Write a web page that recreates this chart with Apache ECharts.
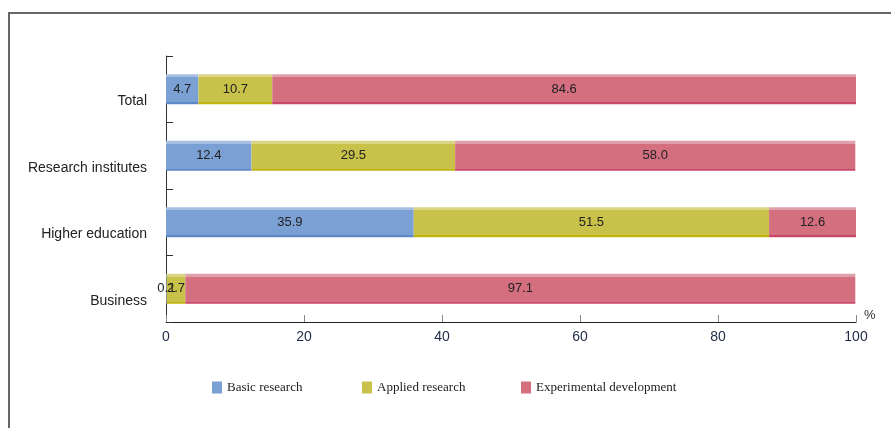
<!DOCTYPE html>
<html>
<head>
<meta charset="utf-8">
<script src="https://cdn.jsdelivr.net/npm/echarts@6/dist/echarts.min.js"></script>
<style>
html,body{margin:0;padding:0;background:#fff;}
#main{width:891px;height:428px;}
</style>
</head>
<body>
<div id="main"></div>
<script>
// 数据
var categories = ['Business', 'Higher education', 'Research institutes', 'Total'];
var basicResearch = [0.1, 35.9, 12.4, 4.7];
var appliedResearch = [2.7, 51.5, 29.5, 10.7];
var experimentalDev = [97.1, 12.6, 58.0, 84.6];
var seriesNames = ['Basic research', 'Applied research', 'Experimental development'];
var xTicks = [0, 20, 40, 60, 80, 100];

var myChart = echarts.init(document.getElementById('main'));

// 条形的上浅下深效果
function barColor(light, main, dark) {
    return new echarts.graphic.LinearGradient(0, 0, 0, 1, [
        {offset: 0, color: light},
        {offset: 0.1, color: light},
        {offset: 0.1, color: main},
        {offset: 0.93, color: main},
        {offset: 0.93, color: dark},
        {offset: 1, color: dark}
    ]);
}

var colors = [
    {flat: '#7ba0d4', bar: barColor('#a6bee3', '#7ba0d4', '#5a88c8')},
    {flat: '#c8c24a', bar: barColor('#dad585', '#c8c24a', '#c2b410')},
    {flat: '#d46f80', bar: barColor('#e0a0aa', '#d46f80', '#c9486a')}
];
var values = [basicResearch, appliedResearch, experimentalDev];

var labelStyle = {
    show: true,
    position: 'inside',
    color: '#222',
    fontSize: 13,
    fontFamily: 'Liberation Sans, Arial, sans-serif',
    formatter: function (p) { return p.value.toFixed(1); }
};

var series = [];
for (var i = 0; i < 3; i++) {
    series.push({
        name: seriesNames[i],
        type: 'bar',
        stack: 'all',
        barWidth: 30,
        itemStyle: {color: colors[i].bar},
        label: labelStyle,
        data: values[i]
    });
}

var legendLeft = [207, 357, 516];
var legends = [];
for (var j = 0; j < 3; j++) {
    legends.push({
        left: legendLeft[j],
        top: 376,
        icon: 'rect',
        itemWidth: 10,
        itemHeight: 12,
        textStyle: {fontFamily: 'Liberation Serif, Times New Roman, serif', fontSize: 13, color: '#222'},
        data: [{name: seriesNames[j], itemStyle: {color: colors[j].flat}}]
    });
}

var option = {
    animation: false,
    grid: {left: 166, right: 35, top: 56, bottom: 106},
    legend: legends,
    xAxis: {
        type: 'value',
        min: 0,
        max: 100,
        interval: 20,
        name: '%',
        nameGap: 8,
        nameTextStyle: {color: '#333', fontSize: 13, verticalAlign: 'bottom', fontFamily: 'Liberation Sans, Arial, sans-serif'},
        axisLine: {show: true, lineStyle: {color: '#222', width: 1}},
        axisTick: {show: true, inside: true, length: 7, lineStyle: {color: '#888'}},
        splitLine: {show: false},
        axisLabel: {
            color: '#1f2a44',
            fontSize: 14,
            margin: 8,
            fontFamily: 'Liberation Sans, Arial, sans-serif',
            formatter: function (v) { return xTicks.indexOf(v) >= 0 ? v : ''; }
        }
    },
    yAxis: {
        type: 'category',
        data: categories,
        axisLine: {show: true, lineStyle: {color: '#333', width: 1}},
        axisTick: {show: true, inside: true, length: 7, lineStyle: {color: '#333'}},
        axisLabel: {
            color: '#222',
            fontSize: 14,
            margin: 19,
            verticalAlign: 'top',
            lineHeight: 24,
            fontFamily: 'Liberation Sans, Arial, sans-serif'
        }
    },
    graphic: [{
        type: 'polyline',
        shape: {points: [[9, 428], [9, 13], [891, 13]]},
        style: {stroke: '#666', lineWidth: 2, fill: null}
    }],
    series: series
};

myChart.setOption(option);
</script>
</body>
</html>
